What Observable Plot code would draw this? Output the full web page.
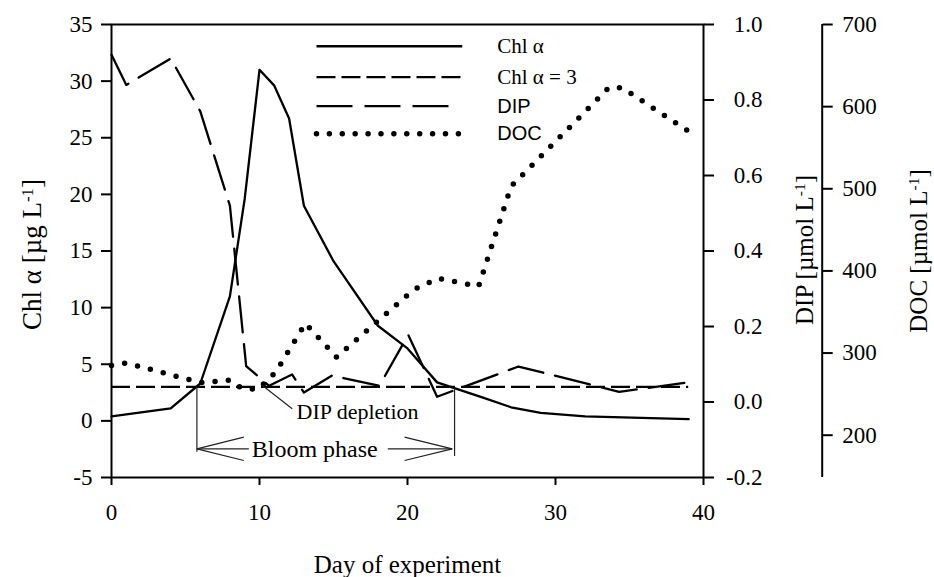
<!DOCTYPE html>
<html>
<head>
<meta charset="utf-8">
<script src="https://cdn.jsdelivr.net/npm/d3@7"></script>
<script src="https://cdn.jsdelivr.net/npm/@observablehq/plot@0.6"></script>
<style>
  body { margin: 0; background: #fff; }
  #chart svg { display: block; }
  #chart svg text { font-family: 'Liberation Serif', 'Times New Roman', serif; }
</style>
</head>
<body>
<div id="chart"></div>
<script>
// ---- data ----
const chlDays = [0, 4, 6, 8, 9, 10, 11, 12, 13, 15, 18, 20, 22, 25, 27, 29, 32, 39];
const chlVals = [0.4, 1.1, 3.3, 11.0, 19.6, 31.0, 29.6, 26.7, 19.0, 14.1, 8.4, 6.4, 3.4, 2.1, 1.2, 0.7, 0.4, 0.15];

const refLevel = 3;            // "Chl α = 3" threshold
const refDays = [0, 39];

const dipDays = [0, 1, 4, 6, 8, 9.1, 10.65, 12.2, 13, 14.9, 18.1, 20.05, 22, 27.5, 34.3, 39];
const dipVals = [0.92, 0.84, 0.91, 0.77, 0.52, 0.095, 0.043, 0.073, 0.025, 0.07, 0.043, 0.178, 0.014, 0.094, 0.027, 0.052];

const docDays = [0, 1, 6, 8, 8.8, 9.9, 11.1, 13.1, 15.2, 20.4, 22.1, 24.8, 27, 33.6, 34.5, 39];
const docVals = [285, 288, 264, 267, 257, 256, 277, 336, 295, 377, 391, 381, 503, 623, 623, 570];

const xTicks = [0, 10, 20, 30, 40];
const chlTicks = [-5, 0, 5, 10, 15, 20, 25, 30, 35];
const dipTicks = [-0.2, 0.0, 0.2, 0.4, 0.6, 0.8, 1.0];
const docTicks = [200, 300, 400, 500, 600, 700];

const legendLabels = ["Chl α", "Chl α = 3", "DIP", "DOC"];

// bloom phase bounds (days)
const bloomStart = 5.77, bloomEnd = 23.18;

// ---- scales for the secondary axes (mapped onto the Chl axis) ----
const chlDomain = [-5, 35];
const dipToChl = d3.scaleLinear([-0.2, 1.0], chlDomain);
const docToChl = d3.scaleLinear([148.5, 700], chlDomain);

const chl = chlDays.map((d, i) => ({day: d, v: chlVals[i]}));
const dip = dipDays.map((d, i) => ({day: d, v: dipVals[i]}));
const doc = docDays.map((d, i) => ({day: d, v: docVals[i]}));

const fmtDip = d => { const v = Math.round(dipToChl.invert(d) * 10) / 10; return (v === 0 ? 0 : v).toFixed(1); };
const fmtDoc = d => String(Math.round(docToChl.invert(d)));

// annotation geometry (data units)
const bloomRules = [
  {x: bloomStart, top: 3.0, bottom: -2.77},
  {x: bloomEnd, top: 2.92, bottom: -3.15}
];
const arrowY = -2.47;
const arrowSegs = [
  {x1: bloomStart, y1: arrowY, x2: 9.28, y2: arrowY},
  {x1: bloomStart, y1: arrowY, x2: 8.94, y2: -1.44},
  {x1: bloomStart, y1: arrowY, x2: 8.94, y2: -3.50},
  {x1: 18.67, y1: arrowY, x2: 23.02, y2: arrowY},
  {x1: 23.02, y1: arrowY, x2: 19.8, y2: -1.44},
  {x1: 23.02, y1: arrowY, x2: 19.8, y2: -3.50},
  {x1: 10.2, y1: 3.12, x2: 12.21, y2: 1.07}
];

const legX1 = 13.85, legX2 = 23.7, legTextX = 26.06;
const legY = [33.08, 30.35, 27.79, 25.35];

const serif = "'Liberation Serif', 'Times New Roman', serif";
const sans = "'Liberation Sans', Arial, sans-serif";
const tickFont = {fontFamily: serif, fontSize: 23};

const plot = Plot.plot({
  width: 934,
  height: 577,
  marginLeft: 111,
  marginRight: 231,
  marginTop: 24,
  marginBottom: 100,
  x: {domain: [0, 40]},
  y: {domain: chlDomain},
  style: {fontFamily: serif, fontSize: "23px", background: "#fff", color: "#000", overflow: "visible"},
  marks: [
    Plot.frame({strokeWidth: 2}),
    Plot.axisX(xTicks, {tickSize: 8, tickPadding: 18, strokeWidth: 2, tickFormat: d => String(d), label: null, ...tickFont}),
    Plot.axisY(chlTicks, {anchor: "left", tickSize: 10, tickPadding: 9, strokeWidth: 2, tickFormat: d => String(d), label: null, ...tickFont}),
    Plot.axisY(dipTicks.map(dipToChl), {anchor: "right", tickSize: 10, tickPadding: 49, textAnchor: "end", strokeWidth: 2, tickFormat: fmtDip, label: null, ...tickFont}),
    Plot.axisY(docTicks.map(docToChl), {anchor: "right", dx: 118.7, tickSize: 10, tickPadding: 10, strokeWidth: 2, tickFormat: fmtDoc, label: null, ...tickFont}),
    Plot.ruleX([40], {y1: chlDomain[0], y2: chlDomain[1], dx: 118.7, strokeWidth: 2}),

    // series
    Plot.ruleY([refLevel], {x1: refDays[0], x2: refDays[1], strokeDasharray: "19,6", strokeWidth: 2.3}),
    Plot.line(dip, {x: "day", y: d => dipToChl(d.v), strokeDasharray: "36,12", strokeWidth: 2.3}),
    Plot.line(doc, {x: "day", y: d => docToChl(d.v), strokeDasharray: "0,13.3", strokeLinecap: "round", strokeWidth: 5.5}),
    Plot.line(chl, {x: "day", y: "v", strokeWidth: 2.3}),

    // annotations
    Plot.ruleX(bloomRules, {x: "x", y1: "top", y2: "bottom", strokeWidth: 1.2, stroke: "#222"}),
    Plot.link(arrowSegs, {x1: "x1", y1: "y1", x2: "x2", y2: "y2", strokeWidth: 1.2, stroke: "#222"}),
    Plot.text(["Bloom phase"], {x: 13.73, y: arrowY, text: d => d, fontSize: 24, textAnchor: "middle"}),
    Plot.text(["DIP depletion"], {x: 12.5, y: 0.77, text: d => d, fontSize: 22, textAnchor: "start"}),

    // legend
    Plot.link([legendLabels[0]], {x1: legX1, x2: legX2, y1: legY[0], y2: legY[0], strokeWidth: 2.3}),
    Plot.link([legendLabels[1]], {x1: legX1, x2: legX2, y1: legY[1], y2: legY[1], strokeWidth: 2.3, strokeDasharray: "19,6"}),
    Plot.link([legendLabels[2]], {x1: legX1, x2: 23.0, y1: legY[2], y2: legY[2], strokeWidth: 2.3, strokeDasharray: "36,12"}),
    Plot.link([legendLabels[3]], {x1: legX1, x2: legX2, y1: legY[3], y2: legY[3], strokeWidth: 5.5, strokeDasharray: "0,12.9", strokeLinecap: "round"}),
    Plot.text(legendLabels.slice(0, 2), {x: legTextX, y: (d, i) => legY[i], text: d => d, textAnchor: "start", fontSize: 21}),
    Plot.text(legendLabels.slice(2), {x: legTextX, y: (d, i) => legY[i + 2], text: d => d, textAnchor: "start", fontSize: 20, fontFamily: sans}),

    // axis titles
    Plot.text(["Chl α [µg L-1]"], {frameAnchor: "left", textAnchor: "middle", rotate: -90, dx: -79, dy: 3.5, text: d => d, fontSize: 27}),
    Plot.text(["DIP [µmol L-1]"], {frameAnchor: "right", textAnchor: "middle", rotate: -90, dx: 101.7, dy: -1, text: d => d, fontSize: 25}),
    Plot.text(["DOC [µmol L-1]"], {frameAnchor: "right", textAnchor: "middle", rotate: -90, dx: 215.4, text: d => d, fontSize: 25}),
    Plot.text(["Day of experiment"], {frameAnchor: "bottom", dy: 95, text: d => d, fontSize: 25})
  ]
});

const ns = "http://www.w3.org/2000/svg";
plot.querySelectorAll("text").forEach(t => {
  const s = t.textContent;
  // numeric tick labels: serif, 23px
  if (/^-?[\d.]+$/.test(s)) {
    t.style.fontFamily = serif;
    t.style.fontSize = "23px";
    t.style.fontVariant = "normal";
    return;
  }
  // legend entries set in sans
  if (s === "DIP" || s === "DOC") {
    t.style.fontFamily = sans;
    return;
  }
  // turn "L-1]" into a superscript exponent
  const target = t.querySelector("tspan") || t;
  const m = target.textContent.match(/^(.*L)-1\]$/);
  if (!m) return;
  target.textContent = "";
  target.appendChild(document.createTextNode(m[1]));
  const sup = document.createElementNS(ns, "tspan");
  sup.setAttribute("dy", "-0.5em");
  sup.setAttribute("font-size", "0.62em");
  sup.textContent = "-1";
  target.appendChild(sup);
  const close = document.createElementNS(ns, "tspan");
  close.setAttribute("dy", "0.31em");
  close.textContent = "]";
  target.appendChild(close);
});

document.getElementById("chart").appendChild(plot);
</script>
</body>
</html>
